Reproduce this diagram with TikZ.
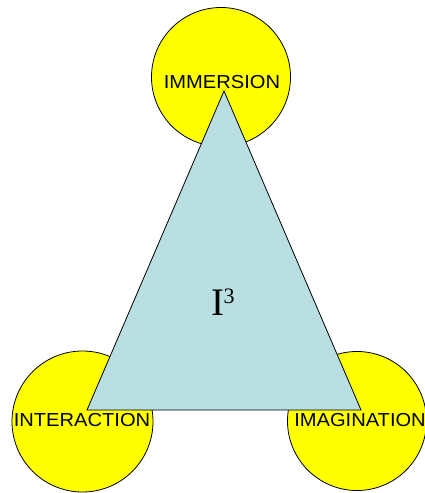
\documentclass[tikz,border=0pt]{standalone}
\usepackage{fontspec}
\setmainfont{Liberation Sans}
\newfontfamily\serifrm{Liberation Serif}
\definecolor{ballyellow}{HTML}{FFFF00}
\definecolor{trifill}{HTML}{B9DFE3}
\begin{document}
\begin{tikzpicture}[x=1pt,y=-1pt,
  ball/.style={circle,draw=black,line width=0.8pt,fill=ballyellow,inner sep=0pt,minimum size=#1},
  lbl/.style={inner sep=0pt,font=\fontsize{18.8}{18.8}\selectfont,xscale=1.07}]
\useasboundingbox (0,0) rectangle (424,493);
\node[ball=139pt] (top) at (221,77) {};
\node[ball=141pt] (left) at (82.5,421.5) {};
\node[ball=139pt] (right) at (357,421) {};
\coordinate (apex) at (224,91);
\coordinate (bl) at (87,410);
\coordinate (br) at (361,410);
\draw[line width=0.8pt,fill=trifill] (apex) -- (bl) -- (br) -- cycle;
\node[lbl] (timm) at (222,82.5) {IMMERSION};
\node[lbl] (tint) at (82,420.5) {INTERACTION};
\node[lbl] (tima) at (360,420.5) {IMAGINATION};
\node[inner sep=0pt,anchor=base west,font=\serifrm\fontsize{39}{39}\selectfont] (ithree) at (211,315) {I\kern-0.5pt\raisebox{12pt}{\fontsize{22}{22}\selectfont 3}};
\end{tikzpicture}
\end{document}
